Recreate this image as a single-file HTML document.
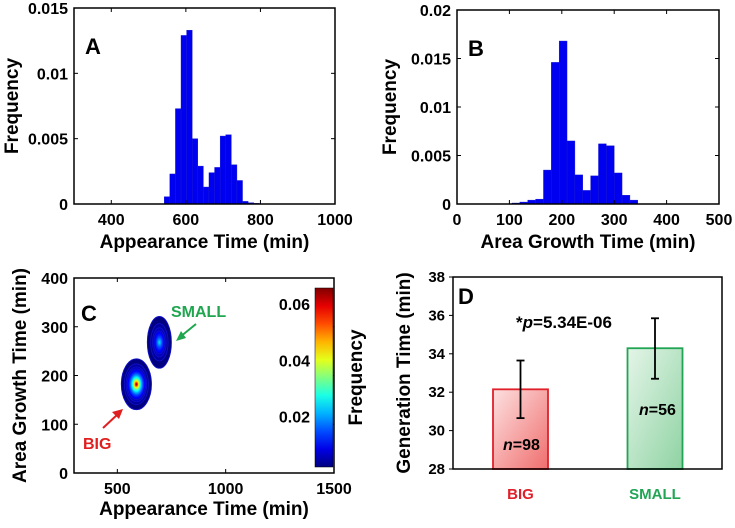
<!DOCTYPE html>
<html><head><meta charset="utf-8"><style>
body{margin:0;background:#fff;}
svg text{font-family:"Liberation Sans",Arial,sans-serif;font-weight:bold;}
</style></head><body>
<svg id="fig" width="735" height="523" viewBox="0 0 735 523" xmlns="http://www.w3.org/2000/svg"></svg>
<script>
// Panel A data
const aBinStarts=[542,557,572,587,602,617,632,647,662,677,692,707,722,737,752,767,782];
const aFreq=[0.00056,0.0023,0.0073,0.0129,0.0133,0.0050,0.0029,0.0013,0.0024,0.0028,0.0052,0.0053,0.0030,0.0018,0.0002,0.0001,0.00005];
const aXTicks=[400,600,800,1000];
const aYTicks=[0,0.005,0.01,0.015];
const aYLabels=["0","0.005","0.01","0.015"];
// Panel B data
const bBinStarts=[105,120,135,150,165,180,195,210,225,240,255,270,285,300,315,330];
const bFreq=[0.0001,0.0002,0.0004,0.0005,0.0035,0.0146,0.0168,0.0065,0.0030,0.0014,0.0029,0.0062,0.0060,0.0032,0.0009,0.0004];
const bXTicks=[0,100,200,300,400,500];
const bYTicks=[0,0.005,0.01,0.015,0.02];
const bYLabels=["0","0.005","0.01","0.015","0.02"];
// Panel C data (density blobs: x center, y center, peak, scale x, scale y)
const cCenterX=[588,694];
const cCenterY=[182,268];
const cPeak=[0.065,0.025];
const cSigX=[20,22];
const cSigY=[15,21];
const cXTicks=[500,1000,1500];
const cYTicks=[0,100,200,300,400];
const cbTicks=[0.02,0.04,0.06];
// Panel D data
const dCats=["BIG","SMALL"];
const dVals=[32.15,34.29];
const dLow=[30.65,32.7];
const dHigh=[33.65,35.85];
const dN=[98,56];
const dYTicks=[28,30,32,34,36,38];

const svg=document.getElementById('fig');
const NS="http://www.w3.org/2000/svg";
function mk(tag,attrs,parent){const e=document.createElementNS(NS,tag);for(const k in attrs)e.setAttribute(k,attrs[k]);(parent||svg).appendChild(e);return e;}
function txt(s,attrs,parent){const e=mk('text',attrs,parent);e.textContent=s;return e;}
function lin(d0,d1,r0,r1){return v=>r0+(v-d0)/(d1-d0)*(r1-r0);}
function jet(t){t=Math.max(0,Math.min(1,t));const r=Math.max(0,Math.min(1,1.5-Math.abs(4*t-3))),g=Math.max(0,Math.min(1,1.5-Math.abs(4*t-2))),b=Math.max(0,Math.min(1,1.5-Math.abs(4*t-1)));return `rgb(${Math.round(r*255)},${Math.round(g*255)},${Math.round(b*255)})`;}

function axesBox(g,L,T,R,B,name){const r=mk('rect',{x:L,y:T,width:R-L,height:B-T,fill:'none',stroke:'#000','stroke-width':1.5},g);}

function histPanel(id,L,T,R,B,xd,yd,starts,freq,bw,xt,yt,ylab,xtitle,letter,ytx){
  const g=mk('g',{});
  const X=lin(xd[0],xd[1],L,R),Y=lin(yd[0],yd[1],B,T);
  starts.forEach((s,i)=>{const r=mk('rect',{x:X(s),y:Y(freq[i]),width:X(s+bw)-X(s),height:B-Y(freq[i]),fill:'#0000f0',stroke:'#1a1acc','stroke-width':0.4},g);
    
    });
  axesBox(g,L,T,R,B,'plot-area');
  xt.forEach(v=>{const x=X(v);mk('line',{x1:x,y1:B,x2:x,y2:B-4,stroke:'#000'},g);mk('line',{x1:x,y1:T,x2:x,y2:T+4,stroke:'#000'},g);
    const t=txt(String(v),{x:x,y:B+21,'text-anchor':'middle','font-size':16},g);});
  yt.forEach((v,i)=>{const y=Y(v);mk('line',{x1:L,y1:y,x2:L+4,y2:y,stroke:'#000'},g);mk('line',{x1:R,y1:y,x2:R-4,y2:y,stroke:'#000'},g);
    const t=txt(ylab[i],{x:L-6,y:y+6,'text-anchor':'end','font-size':16},g);});
  const xtl=txt(xtitle,{x:(L+R)/2,y:B+44,'text-anchor':'middle','font-size':19},g);
  const ytl=txt('Frequency',{x:0,y:0,'text-anchor':'middle','font-size':19,transform:`translate(${ytx},${(T+B)/2}) rotate(-90)`},g);
  const pl=txt(letter,{x:L+11,y:T+46,'font-size':22},g);
}
histPanel('panel-a',74,8,335,204,[300,1000],[0,0.015],aBinStarts,aFreq,15,aXTicks,aYTicks,aYLabels,'Appearance Time (min)','A',18);
histPanel('panel-b',457,10,719,204,[0,500],[0,0.02],bBinStarts,bFreq,15,bXTicks,bYTicks,bYLabels,'Area Growth Time (min)','B',396);

// Panel C
(function(){
  const L=74,T=278,R=334,B=473;
  const g=mk('g',{});
  const X=lin(300,1500,L,R),Y=lin(0,400,B,T);
  const cMin=0.0021,cMax=0.0657;
  for(let k=0;k<cCenterX.length;k++){
    for(let lev=0.002;lev<cPeak[k];lev+=0.002){
      const f=Math.log(cPeak[k]/lev);
      const rx=Math.abs(X(cCenterX[k]+cSigX[k]*f)-X(cCenterX[k])),ry=Math.abs(Y(cCenterY[k]+cSigY[k]*f)-Y(cCenterY[k]));
      const col=jet((lev-cMin)/(cMax-cMin));
      const e=mk('ellipse',{cx:X(cCenterX[k]),cy:Y(cCenterY[k]),rx:rx,ry:ry,fill:col,stroke:lev<0.01?'#1010c8':col,'stroke-width':0.9},g);
      
      
    }
  }
  axesBox(g,L,T,R,B,'plot-area');
  cXTicks.forEach(v=>{const x=X(v);mk('line',{x1:x,y1:B,x2:x,y2:B-4,stroke:'#000'},g);mk('line',{x1:x,y1:T,x2:x,y2:T+4,stroke:'#000'},g);
    const t=txt(String(v),{x:x,y:B+21,'text-anchor':'middle','font-size':16},g);});
  cYTicks.forEach(v=>{const y=Y(v);mk('line',{x1:L,y1:y,x2:L+4,y2:y,stroke:'#000'},g);mk('line',{x1:R,y1:y,x2:R-4,y2:y,stroke:'#000'},g);
    const t=txt(String(v),{x:L-6,y:y+6,'text-anchor':'end','font-size':16},g);});
  const defs=mk('defs',{},g);const gr=mk('linearGradient',{id:'jetg',x1:0,y1:1,x2:0,y2:0},defs);
  for(let i=0;i<=10;i++)mk('stop',{offset:i/10,'stop-color':jet(i/10)},gr);
  const CT=288,CB=467,CY=lin(cMin,cMax,CB,CT);
  const cb=mk('rect',{x:315,y:CT,width:18,height:CB-CT,fill:'url(#jetg)',stroke:'#000','stroke-width':0.5},g);
  cbTicks.forEach(v=>{const t=txt(v.toFixed(2),{x:310,y:CY(v)+6,'text-anchor':'end','font-size':16},g);});
  const cbt=txt('Frequency',{x:0,y:0,'text-anchor':'middle','font-size':19,transform:`translate(362,${(CT+CB)/2}) rotate(-90)`},g);
  const xtl=txt('Appearance Time (min)',{x:(L+R)/2,y:B+42,'text-anchor':'middle','font-size':19},g);
  const ytl=txt('Area Growth Time (min)',{x:0,y:0,'text-anchor':'middle','font-size':19,transform:`translate(26,${(T+B)/2}) rotate(-90)`},g);
  const pl=txt('C',{x:81,y:321,'font-size':22},g);
  const s=txt('SMALL',{x:171,y:317,'font-size':16,fill:'#1fa64f','font-weight':'normal'},g);
  mk('line',{x1:196,y1:324,x2:180,y2:337,stroke:'#1fa64f','stroke-width':2},g);mk('polygon',{points:'176,341 181,331 186,338',fill:'#1fa64f'},g);
  const bg=txt('BIG',{x:83,y:449,'font-size':16,fill:'#e02020','font-weight':'normal'},g);
  mk('line',{x1:103,y1:428,x2:118,y2:414,stroke:'#e02020','stroke-width':2},g);mk('polygon',{points:'123,409 112,412 119,419',fill:'#e02020'},g);
})();

// Panel D
(function(){
  const L=453,T=277,R=722,B=469;
  const g=mk('g',{});
  const Y=lin(28,38,B,T);
  const defs=mk('defs',{},g);
  const gr1=mk('linearGradient',{id:'gr1',x1:0,y1:0,x2:1,y2:1},defs);mk('stop',{offset:0,'stop-color':'#fde0e0'},gr1);mk('stop',{offset:1,'stop-color':'#f06e6e'},gr1);
  const gr2=mk('linearGradient',{id:'gr2',x1:0,y1:0,x2:1,y2:1},defs);mk('stop',{offset:0,'stop-color':'#e4f5e8'},gr2);mk('stop',{offset:1,'stop-color':'#8fd3a3'},gr2);
  const fills=['url(#gr1)','url(#gr2)'],strokes=['#e0202a','#22a455'];
  const centers=[520.5,655];const bw=55;
  dCats.forEach((c,i)=>{const cx=centers[i];
    const r=mk('rect',{x:cx-bw/2,y:Y(dVals[i]),width:bw,height:B-Y(dVals[i]),fill:fills[i],stroke:strokes[i],'stroke-width':1.8},g);
    
    
    mk('line',{x1:cx,y1:Y(dLow[i]),x2:cx,y2:Y(dHigh[i]),stroke:'#000','stroke-width':1.8},g);
    mk('line',{x1:cx-4,y1:Y(dLow[i]),x2:cx+4,y2:Y(dLow[i]),stroke:'#000','stroke-width':1.8},g);
    mk('line',{x1:cx-4,y1:Y(dHigh[i]),x2:cx+4,y2:Y(dHigh[i]),stroke:'#000','stroke-width':1.8},g);
    const cl=txt(c,{x:cx,y:499,'text-anchor':'middle','font-size':15,fill:strokes[i]},g);
  });
  const n1=txt('',{x:503,y:450,'font-size':16},g);
  n1.innerHTML='<tspan font-style="italic">n</tspan>='+dN[0];
  const n2=txt('',{x:639,y:415,'font-size':16},g);
  n2.innerHTML='<tspan font-style="italic">n</tspan>='+dN[1];
  mk('rect',{x:L,y:T,width:R-L,height:B-T,fill:'none',stroke:'#000','stroke-width':1.5},g);
  dYTicks.forEach(v=>{const y=Y(v);mk('line',{x1:L-4,y1:y,x2:L,y2:y,stroke:'#000'},g);
    const t=txt(String(v),{x:L-8,y:y+5,'text-anchor':'end','font-size':15},g);});
  const ytl=txt('Generation Time (min)',{x:0,y:0,'text-anchor':'middle','font-size':19,transform:`translate(410,${(T+B)/2}) rotate(-90)`},g);
  const pl=txt('D',{x:458,y:304,'font-size':22},g);
  const p=txt('',{x:516,y:328,'font-size':17,'font-weight':'normal'},g);
  p.innerHTML='*<tspan font-style="italic">p</tspan>=5.34E-06';
})();
</script>
</body></html>
